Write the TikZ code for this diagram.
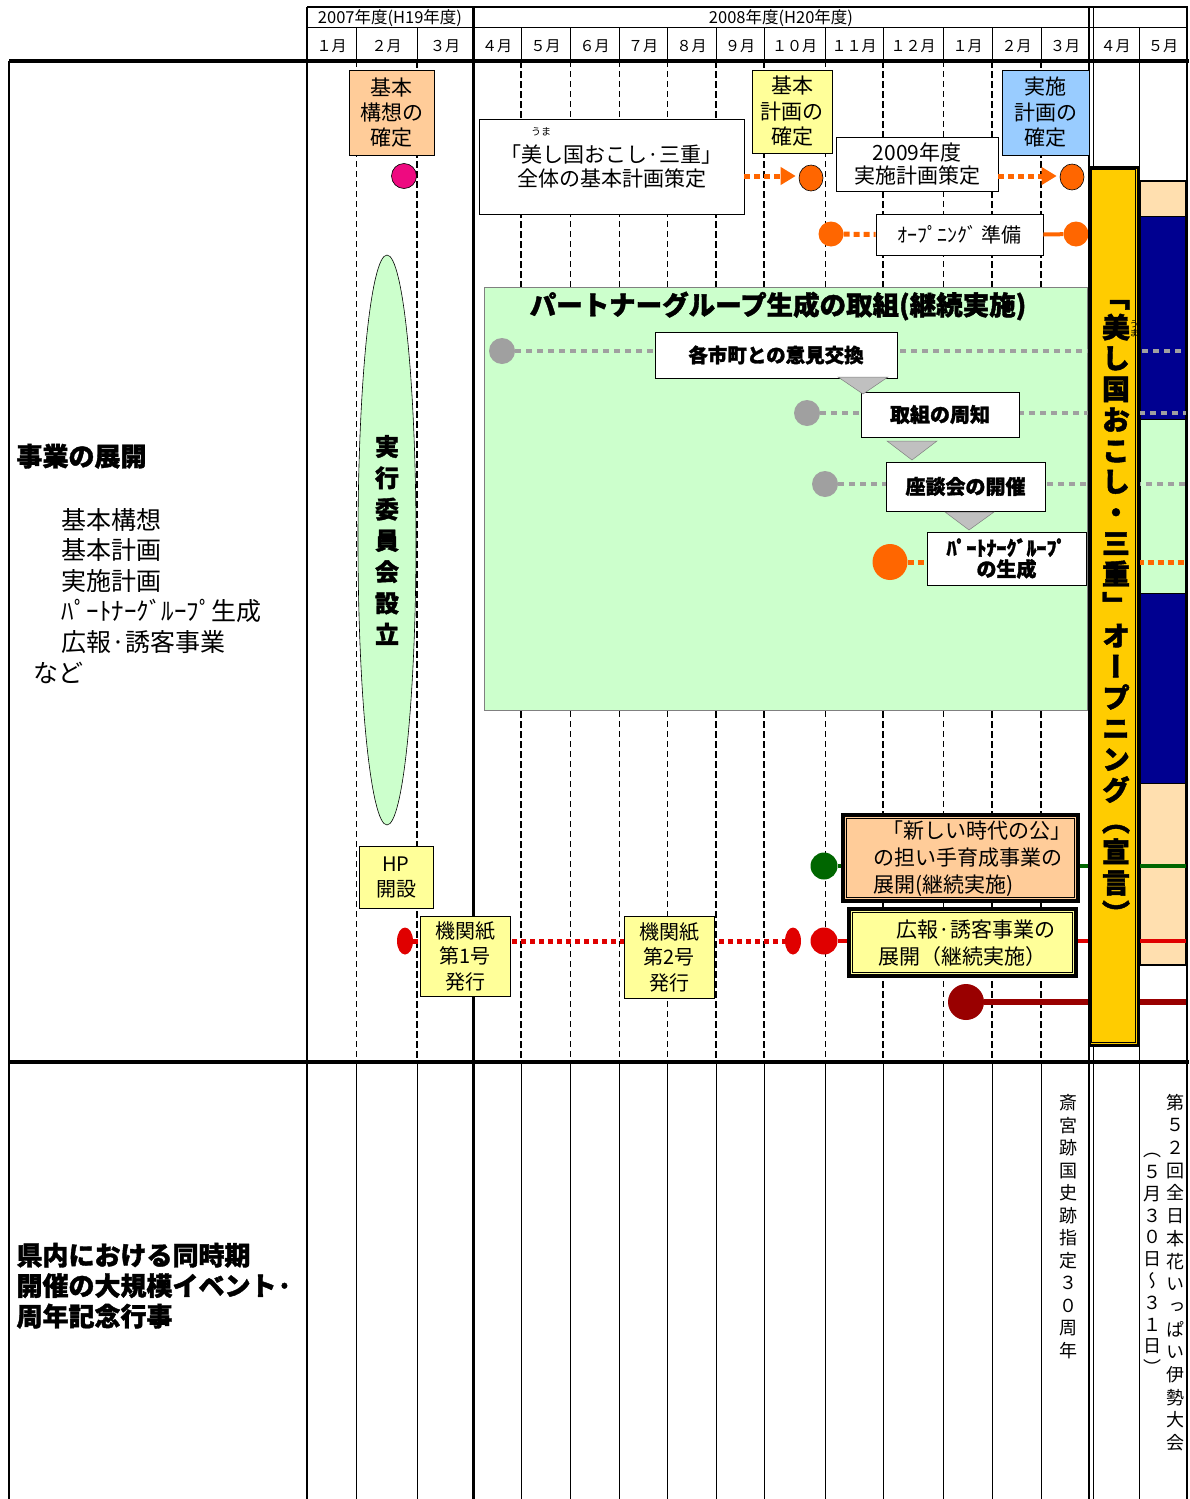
\documentclass[tikz,border=0pt]{standalone}
\usepackage{fontspec}
\setmainfont{Noto Sans CJK JP}[BoldFeatures={FakeBold=1.5}]
\newfontfamily\jpv{Noto Sans CJK JP}[RawFeature=+vert,BoldFeatures={FakeBold=1.5}]
\usetikzlibrary{arrows.meta,shapes.geometric}
\definecolor{peach}{HTML}{FFCC99}
\definecolor{pyellow}{HTML}{FFFF99}
\definecolor{pblue}{HTML}{99CCFF}
\definecolor{pgreen}{HTML}{CCFFCC}
\definecolor{orng}{HTML}{FF6600}
\definecolor{magen}{HTML}{EE0A80}
\definecolor{gry}{HTML}{A0A0A0}
\definecolor{navyb}{HTML}{000090}
\definecolor{pale}{HTML}{FFDFAF}
\definecolor{gold}{HTML}{FFCC00}
\definecolor{dgreen}{HTML}{006600}
\definecolor{rred}{HTML}{E00000}
\definecolor{dred}{HTML}{990000}
\definecolor{tri}{HTML}{C0C0C0}
\newcommand\fsz[2]{\fontsize{#1}{#2}\selectfont}
\begin{document}
\begin{tikzpicture}[x=1pt,y=-1pt,
  bx/.style={draw=black,line width=0.8pt,align=center,inner sep=0pt,fill=white},
  oradot/.style={draw=orng,line width=5pt,dash pattern=on 6pt off 4pt},
  grdot/.style={draw=gry,line width=4.5pt,dash pattern=on 6pt off 5pt},
  dotc/.style={circle,inner sep=0pt},
  elc/.style={ellipse,inner sep=0pt},
  dthin/.style={line width=0.9pt,dash pattern=on 6pt off 4pt},
  dthick/.style={line width=1.8pt,dash pattern=on 7pt off 3pt},
  mon/.style={font=\fsz{15}{15}},
  otip/.style={-{Triangle[length=15pt,width=17pt,fill=orng]}}
  ]
\fill[white] (0,0) rectangle (1189,1499);
\useasboundingbox (0,0) rectangle (1189,1499);

% ---------- grid ----------
\draw[line width=1.2pt] (307,7) -- (1188,7);
\draw[line width=1pt] (307,27) -- (1188,27);
\foreach \x in {356,417,521,570,619,667,716,764,825,883,943,992,1041}
  \draw[line width=1pt] (\x,27) -- (\x,61);
\foreach \x in {356,570,619,667,825,943} \draw[dthin] (\x,61) -- (\x,1062);
\foreach \x in {417,521,716,764,883,992,1041} \draw[dthick] (\x,61) -- (\x,1062);
\foreach \x in {356,417,521,570,619,667,716,764,825,883,943,992,1041}
  \draw[line width=1pt] (\x,1062) -- (\x,1499);
\draw[line width=1pt] (1139,27) -- (1139,1499);
\draw[line width=1.5pt] (9,61) -- (9,1499);
\draw[line width=1.2pt] (307,7) -- (307,1499);
\draw[line width=3pt] (473,7) -- (473,1499);
\draw[line width=2.5pt] (1089,7) -- (1089,1499);
\draw[line width=1pt] (1093,7) -- (1093,1499);
\draw[line width=1.5pt] (1187,7) -- (1187,1499);
\draw[line width=3.5pt] (9,61) -- (1189,61);
\draw[line width=3.5pt] (9,1062) -- (1189,1062);

% ---------- header ----------
\node[font=\fsz{16.5}{16.5}] (y2007) at (390,18) {2007年度(H19年度)};
\node[font=\fsz{16.5}{16.5}] (y2008) at (781,18) {2008年度(H20年度)};
\node[mon] (m1) at (331.5,46) {１月};
\node[mon] (m2) at (386.5,46) {２月};
\node[mon] (m3) at (445,46) {３月};
\node[mon] (m4) at (497,46) {４月};
\node[mon] (m5) at (545.5,46) {５月};
\node[mon] (m6) at (594.5,46) {６月};
\node[mon] (m7) at (643,46) {７月};
\node[mon] (m8) at (691.5,46) {８月};
\node[mon] (m9) at (740,46) {９月};
\node[mon] (m10) at (794.5,46) {１０月};
\node[mon] (m11) at (854,46) {１１月};
\node[mon] (m12) at (913,46) {１２月};
\node[mon] (n1) at (967.5,46) {１月};
\node[mon] (n2) at (1016.5,46) {２月};
\node[mon] (n3) at (1065,46) {３月};
\node[mon] (n4) at (1115.5,46) {４月};
\node[mon] (n5) at (1163,46) {５月};

% ---------- left labels ----------
\node[anchor=base west,font=\bfseries\fsz{26}{30}] (jigyo) at (13,466) {事業の展開};
\node[anchor=base west,align=left,font=\fsz{25}{30.5}] (list) at (58,651)
  {基本構想\\基本計画\\実施計画\\ﾊﾟｰﾄﾅｰｸﾞﾙｰﾌﾟ生成\\広報·誘客事業};
\node[anchor=base west,font=\fsz{25}{25}] (nado) at (30,682) {など};
\node[anchor=base west,align=left,font=\bfseries\fsz{26}{30.5}] (kennai) at (13,1326)
  {県内における同時期\\開催の大規模イベント·\\周年記念行事};

% ---------- partner region ----------
\node[draw=gray,line width=0.6pt,fill=pgreen,minimum width=603pt,minimum height=423pt,inner sep=0pt] (pgroup) at (785.5,498.5) {};
\node[font=\bfseries\fsz{26.5}{26.5}] (ptitle) at (778,306) {パートナーグループ生成の取組(継続実施)};

% ---------- right column block ----------
\fill[pale] (1140,181) rectangle (1185,216);
\fill[navyb] (1140,216) rectangle (1185,419);
\fill[pgreen] (1140,419) rectangle (1185,593);
\fill[navyb] (1140,593) rectangle (1185,783);
\fill[pale] (1140,783) rectangle (1185,965);
\draw[line width=0.6pt] (1140,216) -- (1185,216) (1140,419) -- (1185,419) (1140,593) -- (1185,593) (1140,783) -- (1185,783);
\draw[line width=2.5pt] (1140,181) rectangle (1186,965);

% ---------- circles ----------
\node[dotc,fill=magen,draw=black,line width=0.6pt,minimum size=25pt] (mg) at (404,176) {};
\node[elc,fill=orng,draw=black,line width=0.6pt,minimum width=24pt,minimum height=26pt] (c1) at (811,178) {};
\node[elc,fill=orng,draw=black,line width=0.6pt,minimum width=24pt,minimum height=26pt] (c2) at (1072,177) {};
\node[dotc,fill=orng,minimum size=25pt] (c3) at (831,234) {};
\node[dotc,fill=orng,minimum size=25pt] (c4) at (1076,234) {};
\node[dotc,fill=gry,minimum size=26pt] (g1) at (502,351) {};
\node[dotc,fill=gry,minimum size=26pt] (g2) at (807,413) {};
\node[dotc,fill=gry,minimum size=26pt] (g3) at (825,484) {};
\node[elc,fill=orng,minimum width=35pt,minimum height=36pt] (o5) at (890,562) {};
\node[dotc,fill=dgreen,minimum size=27pt] (gc) at (824,866) {};
\node[elc,fill=rred,minimum width=16pt,minimum height=27pt] (rs1) at (405,941) {};
\node[elc,fill=rred,minimum width=16pt,minimum height=27pt] (rs2) at (793,941) {};
\node[dotc,fill=rred,minimum size=27pt] (rc) at (824,941) {};
\node[dotc,fill=dred,minimum size=36pt] (dc) at (966,1002) {};

\coordinate (ya) at (0,176);
\coordinate (e1) at (1186,351);
\coordinate (e2) at (1186,413);
\coordinate (e3) at (1186,484);
\coordinate (e4) at (1186,562);
\coordinate (e5) at (1186,866);
\coordinate (e6) at (1186,941);
\coordinate (e7) at (1186,1002);

% ---------- connectors ----------
\draw[grdot] (g1) -- (e1);
\draw[grdot] (g2) -- (e2);
\draw[grdot] (g3) -- (e3);
\draw[oradot] (o5) -- (e4);
\draw[dgreen,line width=4pt] (gc) -- (e5);
\draw[rred,line width=4pt] (rc) -- (e6);
\draw[rred,line width=5pt,dash pattern=on 5pt off 4pt] (rs1) -- (rs2);
\draw[dred,line width=6pt] (dc) -- (e7);

% ---------- boxes ----------
\node[bx,fill=peach,minimum width=85pt,minimum height=85pt,font=\fsz{21}{25}] (kousou) at (391.5,112.5) {基本\\構想の\\確定};
\node[bx,minimum width=265pt,minimum height=95pt,font=\fsz{21}{24}] (zentai) at (611.5,166.5) {「美し国おこし·三重」\\全体の基本計画策定};
\node[font=\fsz{10}{10}] (ruby1) at (541,132) {うま};
\node[bx,fill=pyellow,minimum width=80pt,minimum height=83pt,font=\fsz{21}{25.5}] (kkakutei) at (792,111.5) {基本\\計画の\\確定};
\node[bx,minimum width=162pt,minimum height=54pt,font=\fsz{21}{23}] (j2009) at (917,164) {2009年度\\実施計画策定};
\node[bx,fill=pblue,minimum width=87pt,minimum height=85pt,font=\fsz{21}{25.5}] (jkakutei) at (1045.5,112.5) {実施\\計画の\\確定};
\node[bx,minimum width=167pt,minimum height=41pt,font=\fsz{20}{20}] (opn) at (959.5,234.5) {ｵｰﾌﾟﾆﾝｸﾞ 準備};

\draw[oradot,otip] (zentai.east |- ya) -- ([xshift=-3pt]c1.west |- ya);
\draw[oradot,otip] (j2009.east |- ya) -- ([xshift=-3pt]c2.west |- ya);
\draw[oradot] (c3) -- (opn.west);
\draw[orng,line width=4pt] (opn.east) -- (c4);

\node[bx,minimum width=242pt,minimum height=46pt,font=\bfseries\fsz{19.5}{20}] (iken) at (776,355) {各市町との意見交換};
\node[bx,minimum width=158pt,minimum height=45pt,font=\bfseries\fsz{20}{20}] (shuchi) at (940,414.5) {取組の周知};
\node[bx,minimum width=159pt,minimum height=49pt,font=\bfseries\fsz{20}{20}] (zadan) at (965.5,486.5) {座談会の開催};
\node[bx,minimum width=159pt,minimum height=53pt,font=\bfseries\fsz{20}{21}] (pseisei) at (1006.5,558.5) {ﾊﾟｰﾄﾅｰｸﾞﾙｰﾌﾟ\\の生成};

\filldraw[fill=tri,draw=gray,line width=0.5pt] (838,377) -- (888,377) -- (863,394) -- cycle;
\filldraw[fill=tri,draw=gray,line width=0.5pt] (887,441) -- (937,441) -- (912,460) -- cycle;
\filldraw[fill=tri,draw=gray,line width=0.5pt] (945,512) -- (994,512) -- (969,530) -- cycle;

% ellipse
\node[elc,draw=black,line width=0.6pt,fill=pgreen,minimum width=58pt,minimum height=570pt,align=center,font=\bfseries\fsz{24}{31.3}] (iinkai) at (387,540) {実\\行\\委\\員\\会\\設\\立};

% lower boxes
\node[bx,fill=pyellow,minimum width=74pt,minimum height=62pt,font=\fsz{20}{25}] (hp) at (396,877) {HP\\開設};
\node[bx,fill=pyellow,minimum width=90pt,minimum height=80pt,font=\fsz{20}{25.5}] (kk1) at (465,956) {機関紙\\第1号\\発行};
\node[bx,fill=pyellow,minimum width=90pt,minimum height=82pt,font=\fsz{20}{25.5}] (kk2) at (669,957) {機関紙\\第2号\\発行};

\node[draw=black,line width=3.5pt,fill=peach,minimum width=235pt,minimum height=86pt,inner sep=0pt] (atara) at (960.5,858) {};
\draw[line width=0.8pt] ([shift={(5pt,-5pt)}]atara.north west) rectangle ([shift={(-5pt,5pt)}]atara.south east);
\node[anchor=west,align=left,font=\fsz{21}{27}] (atxt) at (870,859) {\hspace*{9pt}「新しい時代の公」\\の担い手育成事業の\\展開(継続実施)};

\node[draw=black,line width=3.5pt,fill=pyellow,minimum width=227pt,minimum height=67pt,inner sep=0pt] (kouhou) at (962.5,942.5) {};
\draw[line width=0.8pt] ([shift={(5pt,-5pt)}]kouhou.north west) rectangle ([shift={(-5pt,5pt)}]kouhou.south east);
\node[anchor=west,align=left,font=\fsz{21}{27}] (ktxt) at (875,943) {\hspace*{18pt}広報·誘客事業の\\展開（継続実施）};

% ---------- opening box ----------
\node[draw=black,line width=3pt,fill=gold,minimum width=49pt,minimum height=878pt,inner sep=0pt] (open) at (1113.5,606) {};
\draw[line width=0.8pt] ([shift={(4pt,-4pt)}]open.north west) rectangle ([shift={(-4pt,4pt)}]open.south east);
\node[align=center,font=\jpv\bfseries\fsz{28}{30.85}] (opentxt) at (1116,612)
 {「\\美\\し\\国\\お\\こ\\し\\・\\三\\重\\」\\オ\\ー\\プ\\ニ\\ン\\グ\\（\\宣\\言\\）};
\node[align=center,font=\jpv\fsz{9}{9}] (ruby2) at (1134,329) {う\\ま};

% ---------- bottom vertical texts ----------
\node[align=center,font=\jpv\fsz{18}{22.5}] (saigu) at (1068,1226.5)
 {斎\\宮\\跡\\国\\史\\跡\\指\\定\\３\\０\\周\\年};
\node[align=center,font=\jpv\fsz{18}{22.7}] (hana) at (1175,1272.5)
 {第\\５\\２\\回\\全\\日\\本\\花\\い\\っ\\ぱ\\い\\伊\\勢\\大\\会};
\node[align=center,font=\jpv\fsz{18}{21.8}] (hdate) at (1152,1264)
 {（\\５\\月\\３\\０\\日\\～\\３\\１\\日\\）};
\end{tikzpicture}
\end{document}
